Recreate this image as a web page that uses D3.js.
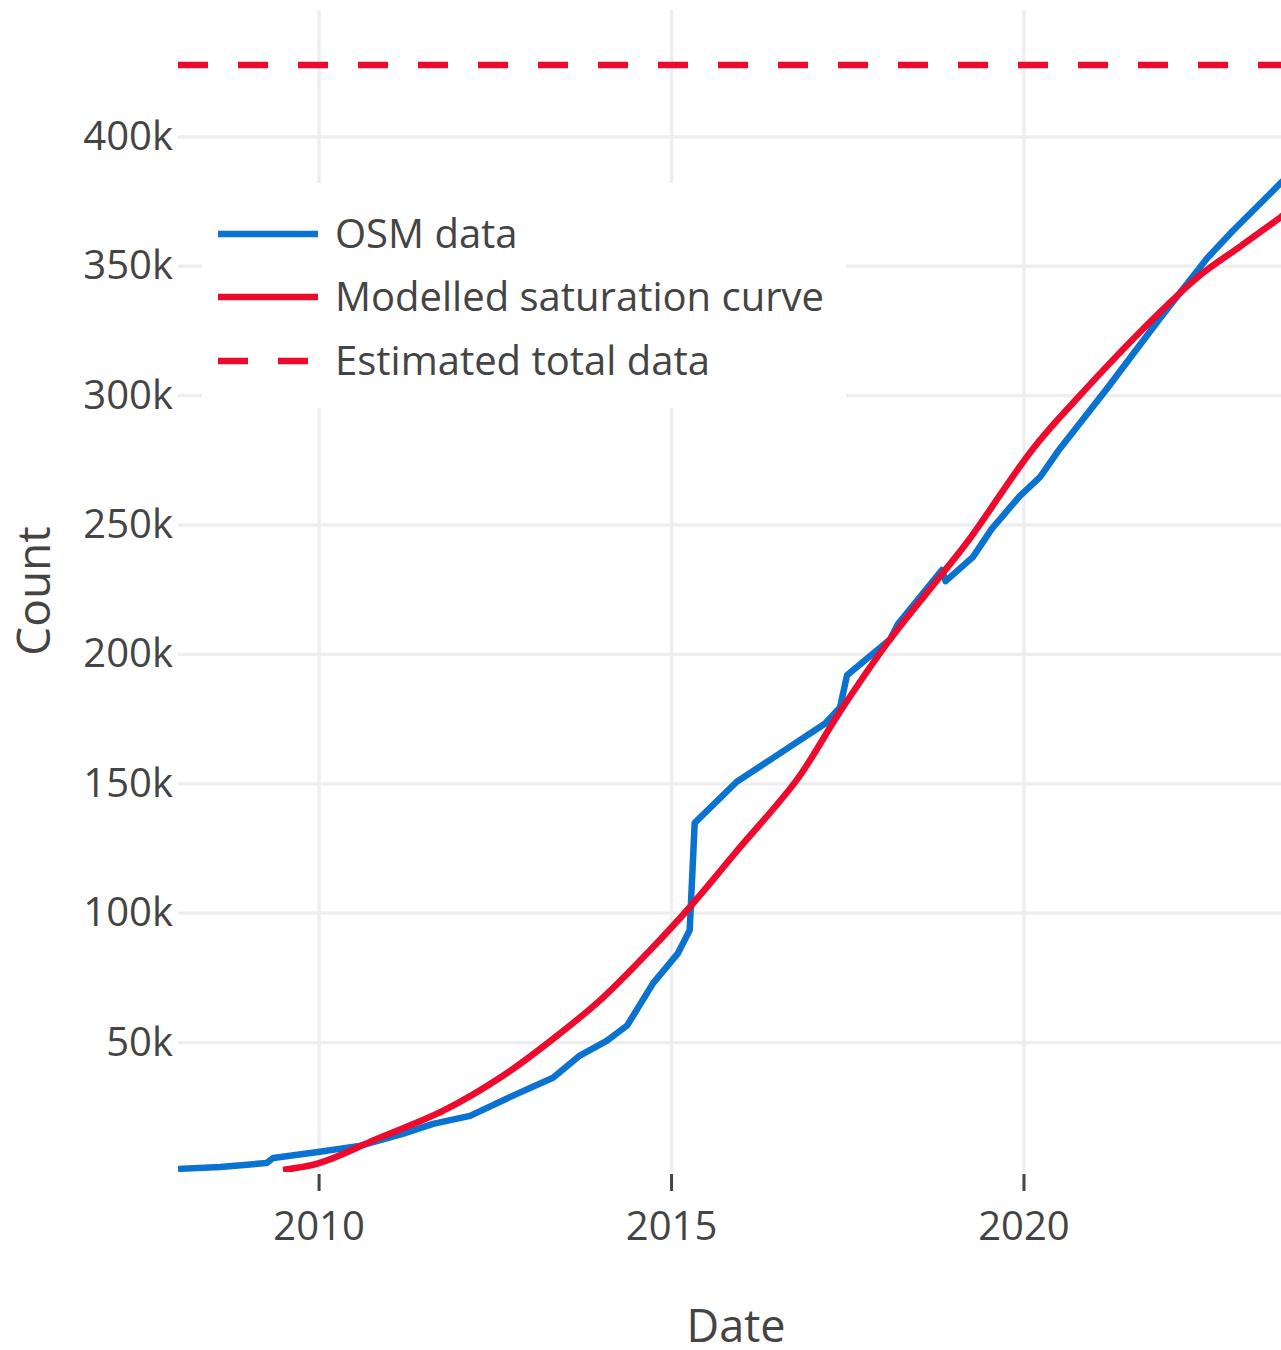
<!DOCTYPE html>
<html>
<head>
<meta charset="utf-8">
<script src="https://cdn.jsdelivr.net/npm/d3@7"></script>
<style>
  html, body { margin: 0; padding: 0; background: #fff; overflow: hidden; }
  svg { display: block; font-family: "Open Sans", "Noto Sans", sans-serif; }
</style>
</head>
<body>
<svg id="chart" width="1281" height="1350"></svg>
<script>
// ---- data ----
const osmDates = ["2008-01-01","2008-08-07","2009-04-05","2009-05-08","2010-01-05","2010-07-30","2011-03-10","2011-08-14","2012-02-22","2012-10-22","2013-04-27","2013-09-13","2014-02-01","2014-05-16","2014-09-27","2015-02-03","2015-04-05","2015-05-01","2015-12-05","2016-06-20","2017-03-07","2017-05-23","2017-06-28","2018-02-06","2018-03-18","2018-11-02","2018-11-21","2019-04-11","2019-07-18","2019-12-10","2020-03-25","2020-07-05","2021-03-06","2021-12-05","2022-08-07","2022-12-17","2023-08-24","2023-10-31"];
const osmValues = [1200,1900,3500,5400,7800,10100,14700,18600,21700,30200,36400,45000,50800,56600,72900,84500,93400,134900,150800,160500,173300,179500,191900,205800,211600,232600,228300,237600,248500,261200,268600,279500,302700,329800,353100,363600,382200,387200];

const modelDates = ["2009-06-28","2010-01-05","2010-10-27","2011-10-04","2012-08-11","2013-05-19","2014-01-11","2014-09-12","2015-04-05","2015-12-05","2016-10-12","2017-05-23","2018-02-06","2018-11-02","2019-03-25","2020-02-17","2020-10-01","2021-09-27","2022-07-01","2023-01-23","2023-08-24","2023-10-31"];
const modelValues = [800,3500,12800,23600,37200,52700,67400,85700,102300,124000,151600,177900,205800,231000,244600,279500,298800,327100,346500,357500,369000,373000];

const estimatedTotal = 427700;

const yTickValues = [50000,100000,150000,200000,250000,300000,350000,400000];
const yTickLabels = ["50k","100k","150k","200k","250k","300k","350k","400k"];
const xTickDates = ["2010-01-01","2015-01-01","2020-01-01"];
const xTickLabels = ["2010","2015","2020"];

const seriesNames = ["OSM data","Modelled saturation curve","Estimated total data"];
const xDomain = ["2008-01-01","2023-10-31"];
const yDomain = [0, 449000];

// ---- drawing ----
const parse = d3.timeParse("%Y-%m-%d");
const textColor = "#444";
const blue = "#0a72d0";
const red = "#ee0a2c";

const svg = d3.select("#chart");
const L = 178, R = 1294, T = 10, B = 1172;

const x = d3.scaleTime().domain(xDomain.map(parse)).range([L, R]);
const y = d3.scaleLinear().domain(yDomain).range([B, T]);

svg.append("defs").append("clipPath").attr("id", "plotclip")
  .append("rect").attr("x", L).attr("y", T).attr("width", R - L).attr("height", B - T);

// gridlines
const grid = svg.append("g");
grid.selectAll("line.v").data(xTickDates).join("line")
  .attr("x1", d => x(parse(d))).attr("x2", d => x(parse(d)))
  .attr("y1", T).attr("y2", B)
  .attr("stroke", "#eee").attr("stroke-width", 3.3);
grid.selectAll("line.h").data(yTickValues).join("line")
  .attr("x1", L).attr("x2", R)
  .attr("y1", d => y(d)).attr("y2", d => y(d))
  .attr("stroke", "#eee").attr("stroke-width", 3.3);

// y tick labels
svg.append("g").selectAll("text").data(yTickValues).join("text")
  .attr("x", 173).attr("y", d => y(d) + 13)
  .attr("text-anchor", "end")
  .attr("font-size", 40).attr("fill", textColor)
  .text((d, i) => yTickLabels[i]);

// x ticks + labels
const xt = svg.append("g");
xt.selectAll("line").data(xTickDates).join("line")
  .attr("x1", d => x(parse(d))).attr("x2", d => x(parse(d)))
  .attr("y1", B + 2).attr("y2", B + 19)
  .attr("stroke", textColor).attr("stroke-width", 3);
xt.selectAll("text").data(xTickDates).join("text")
  .attr("x", d => x(parse(d))).attr("y", 1240)
  .attr("text-anchor", "middle")
  .attr("font-size", 40).attr("fill", textColor)
  .text((d, i) => xTickLabels[i]);

// axis titles
svg.append("text").attr("x", (L + R) / 2).attr("y", 1342)
  .attr("text-anchor", "middle").attr("font-size", 45).attr("fill", textColor)
  .text("Date");
svg.append("text")
  .attr("transform", `translate(50,${(T + B) / 2}) rotate(-90)`)
  .attr("text-anchor", "middle").attr("font-size", 46).attr("fill", textColor)
  .text("Count");

// lines
const plot = svg.append("g").attr("clip-path", "url(#plotclip)");
const osm = osmDates.map((d, i) => ({ d: parse(d), v: osmValues[i] }));
const model = modelDates.map((d, i) => ({ d: parse(d), v: modelValues[i] }));

plot.append("path").datum(osm)
  .attr("d", d3.line().x(p => x(p.d)).y(p => y(p.v)))
  .attr("fill", "none").attr("stroke", blue).attr("stroke-width", 6.5)
  .attr("stroke-linejoin", "round");
plot.append("path").datum(model)
  .attr("d", d3.line().curve(d3.curveCatmullRom.alpha(0.5)).x(p => x(p.d)).y(p => y(p.v)))
  .attr("fill", "none").attr("stroke", red).attr("stroke-width", 6.5)
  .attr("stroke-linejoin", "round");
plot.append("line")
  .attr("x1", L).attr("x2", R)
  .attr("y1", y(estimatedTotal)).attr("y2", y(estimatedTotal))
  .attr("stroke", red).attr("stroke-width", 6.5)
  .attr("stroke-dasharray", "30,30");

// legend
const lg = svg.append("g");
lg.append("rect").attr("x", 202).attr("y", 183).attr("width", 644).attr("height", 225).attr("fill", "#fff");
const rowsY = [234, 297, 361];
const legendStyles = [
  { color: blue, dash: null },
  { color: red, dash: null },
  { color: red, dash: "30,30" }
];
seriesNames.forEach((name, i) => {
  lg.append("line").attr("x1", 218).attr("x2", 318)
    .attr("y1", rowsY[i]).attr("y2", rowsY[i])
    .attr("stroke", legendStyles[i].color).attr("stroke-width", 6.5)
    .attr("stroke-dasharray", legendStyles[i].dash);
  lg.append("text").attr("x", 335).attr("y", rowsY[i] + 14)
    .attr("font-size", 40).attr("fill", textColor).text(name);
});
</script>
</body>
</html>
